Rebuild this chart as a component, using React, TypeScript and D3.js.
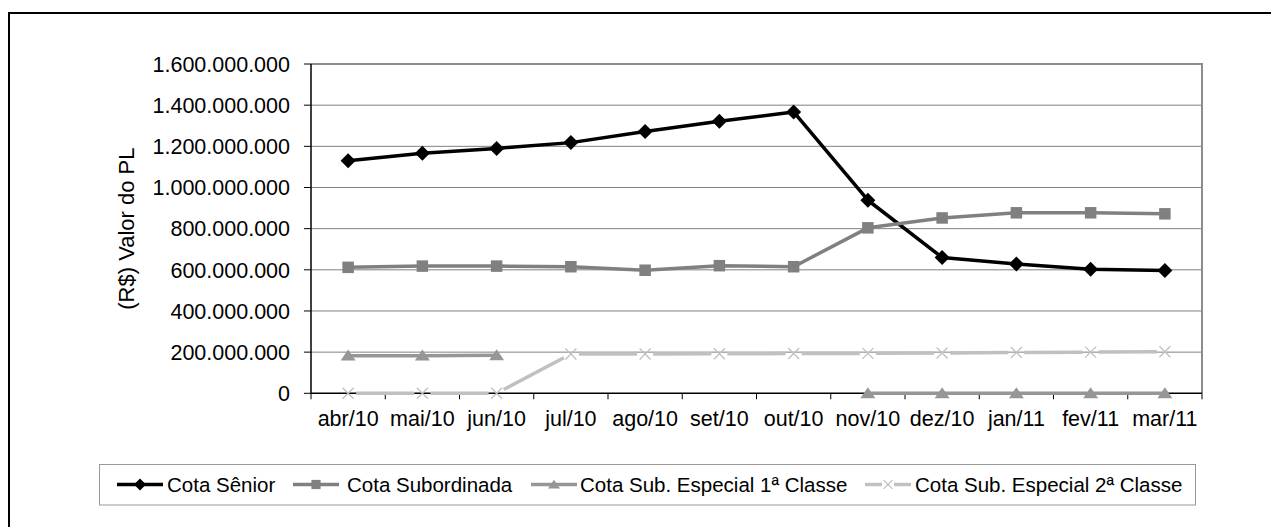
import React from 'react';
import * as d3 from 'd3';

const categories = ['abr/10', 'mai/10', 'jun/10', 'jul/10', 'ago/10', 'set/10', 'out/10', 'nov/10', 'dez/10', 'jan/11', 'fev/11', 'mar/11'];
// values in R$ millions
const cotaSenior = [1130, 1166, 1190, 1218, 1272, 1322, 1367, 938, 660, 628, 603, 597];
const cotaSubordinada = [612, 618, 618, 615, 598, 620, 615, 804, 852, 877, 877, 872];
const cotaEspecial1 = [183, 183, 185, null, null, null, null, 0, 0, 0, 0, 0];
const cotaEspecial2 = [0, 0, 0, 191, 191, 192, 193, 194, 196, 198, 200, 202];
const yTicks = [0, 200, 400, 600, 800, 1000, 1200, 1400, 1600];
const seriesNames = ['Cota Sênior', 'Cota Subordinada', 'Cota Sub. Especial 1ª Classe', 'Cota Sub. Especial 2ª Classe'];
const yTitle = '(R$) Valor do PL';

const FONT = '"Liberation Sans", Arial, sans-serif';

const loc = d3.formatLocale({ decimal: ',', thousands: '.', grouping: [3], currency: ['R$', ''] });
const fmt = loc.format(',.0f');

type Marker = 'diamond' | 'square' | 'triangle' | 'x';

function MarkerShape({ type, cx, cy, color, scale = 1 }: { type: Marker; cx: number; cy: number; color: string; scale?: number }) {
  if (type === 'diamond') {
    const r = 7.5 * scale;
    return <path d={`M${cx},${cy - r}L${cx + r},${cy}L${cx},${cy + r}L${cx - r},${cy}Z`} fill={color} />;
  }
  if (type === 'square') {
    const s = 11.5 * scale;
    return <rect x={cx - s / 2} y={cy - s / 2} width={s} height={s} fill={color} />;
  }
  if (type === 'triangle') {
    const w = 7.5 * scale;
    const h = 11 * scale;
    return <path d={`M${cx},${cy - h * 0.55}L${cx + w},${cy + h * 0.45}L${cx - w},${cy + h * 0.45}Z`} fill={color} />;
  }
  const r = 5.5 * scale;
  return (
    <path d={`M${cx - r},${cy - r}L${cx + r},${cy + r}M${cx - r},${cy + r}L${cx + r},${cy - r}`} stroke={color} strokeWidth={1.3} fill="none" />
  );
}

export default function App() {
  const W = 1271;
  const H = 527;
  const left = 311;
  const right = 1202;
  const top = 64;
  const bottom = 393.3;

  const x = d3.scaleBand<string>().domain(categories).range([left, right]).padding(0);
  const y = d3.scaleLinear().domain([0, 1600]).range([bottom, top]);
  const cx = (c: string) => (x(c) as number) + x.bandwidth() / 2;

  const series: { name: string; values: (number | null)[]; color: string; marker: Marker; width: number }[] = [
    { name: seriesNames[0], values: cotaSenior, color: '#000000', marker: 'diamond', width: 3.5 },
    { name: seriesNames[1], values: cotaSubordinada, color: '#808080', marker: 'square', width: 3.5 },
    { name: seriesNames[2], values: cotaEspecial1, color: '#969696', marker: 'triangle', width: 3.5 },
    { name: seriesNames[3], values: cotaEspecial2, color: '#C0C0C0', marker: 'x', width: 3.5 },
  ];

  const line = d3
    .line<number | null>()
    .defined((d) => d !== null)
    .x((_, i) => cx(categories[i]))
    .y((d) => y(d as number));

  const boundaries = d3.range(categories.length + 1).map((i) => left + i * x.bandwidth());

  // legend layout
  const legY = 484.5;
  const legendItems = [
    { lineStart: 117, text: 167 },
    { lineStart: 293, text: 347 },
    { lineStart: 531, text: 580 },
    { lineStart: 865, text: 915 },
  ];

  return (
    <svg width={W} height={H} style={{ position: 'absolute', left: 0, top: 0, background: '#fff' }} fontFamily={FONT}>
      <rect x={0} y={0} width={W} height={H} fill="#fff" />
      {/* outer frame */}
      <rect x={9} y={13} width={1300} height={560} fill="none" stroke="#000" strokeWidth={2} />

      {/* gridlines */}
      {yTicks.slice(1, -1).map((t) => (
        <line key={t} x1={left} x2={right} y1={y(t)} y2={y(t)} stroke="#808080" strokeWidth={1} />
      ))}
      {/* plot border top/right */}
      <line x1={left} x2={right + 1} y1={top} y2={top} stroke="#8c8c8c" strokeWidth={2} />
      <line x1={right} x2={right} y1={top} y2={bottom} stroke="#8c8c8c" strokeWidth={2} />

      {/* y axis */}
      <line x1={left} x2={left} y1={top} y2={bottom} stroke="#000" strokeWidth={1.5} />
      {yTicks.map((t) => (
        <g key={t}>
          <line x1={left - 7} x2={left} y1={y(t)} y2={y(t)} stroke="#000" strokeWidth={1} />
          <text x={290} y={y(t)} dy="0.36em" textAnchor="end" fontSize={21.5} fill="#000">
            {fmt(t * 1e6)}
          </text>
        </g>
      ))}
      {/* x axis */}
      <line x1={left} x2={right} y1={bottom} y2={bottom} stroke="#000" strokeWidth={1.5} />
      {boundaries.map((b, i) => (
        <line key={i} x1={b} x2={b} y1={bottom} y2={bottom + 6} stroke="#000" strokeWidth={1} />
      ))}
      {categories.map((c) => (
        <text key={c} x={cx(c)} y={426} textAnchor="middle" fontSize={21.5} fill="#000">
          {c}
        </text>
      ))}

      {/* axis title */}
      <text transform={`translate(134,${(top + bottom) / 2}) rotate(-90)`} textAnchor="middle" fontSize={22} fill="#000">
        {yTitle}
      </text>

      {/* series */}
      {series.map((s, si) => {
        if (s.marker === 'x') {
          const gap = 8;
          const segs = [];
          for (let i = 0; i < s.values.length - 1; i++) {
            const a = s.values[i];
            const b = s.values[i + 1];
            if (a === null || b === null) continue;
            const x1 = cx(categories[i]);
            const y1 = y(a);
            const x2 = cx(categories[i + 1]);
            const y2 = y(b);
            const len = Math.hypot(x2 - x1, y2 - y1);
            const ux = (x2 - x1) / len;
            const uy = (y2 - y1) / len;
            segs.push(
              <line key={i} x1={x1 + ux * gap} y1={y1 + uy * gap} x2={x2 - ux * gap} y2={y2 - uy * gap} stroke={s.color} strokeWidth={s.width} />
            );
          }
          return (
            <g key={si}>
              {segs}
              {s.values.map((v, i) =>
                v === null ? null : <MarkerShape key={i} type={s.marker} cx={cx(categories[i])} cy={y(v)} color={s.color} />
              )}
            </g>
          );
        }
        return (
          <g key={si}>
            <path d={line(s.values) || ''} fill="none" stroke={s.color} strokeWidth={s.width} strokeLinejoin="round" />
            {s.values.map((v, i) =>
              v === null ? null : <MarkerShape key={i} type={s.marker} cx={cx(categories[i])} cy={y(v)} color={s.color} />
            )}
          </g>
        );
      })}

      {/* legend */}
      <rect x={99.5} y={464.5} width={1096} height={40.5} fill="#fff" stroke="#999" strokeWidth={1} />
      {series.map((s, i) => {
        const it = legendItems[i];
        const mx = it.lineStart + 23;
        return (
          <g key={s.name}>
            {s.marker === 'x' ? (
              <>
                <line x1={it.lineStart} x2={mx - 6} y1={legY} y2={legY} stroke={s.color} strokeWidth={s.width} />
                <line x1={mx + 6} x2={it.lineStart + 46} y1={legY} y2={legY} stroke={s.color} strokeWidth={s.width} />
              </>
            ) : (
              <line x1={it.lineStart} x2={it.lineStart + 46} y1={legY} y2={legY} stroke={s.color} strokeWidth={s.width} />
            )}
            <MarkerShape type={s.marker} cx={mx} cy={legY} color={s.color} scale={0.8} />
            <text x={it.text} y={legY} dy="0.36em" fontSize={20.5} fill="#000">
              {s.name}
            </text>
          </g>
        );
      })}
    </svg>
  );
}
